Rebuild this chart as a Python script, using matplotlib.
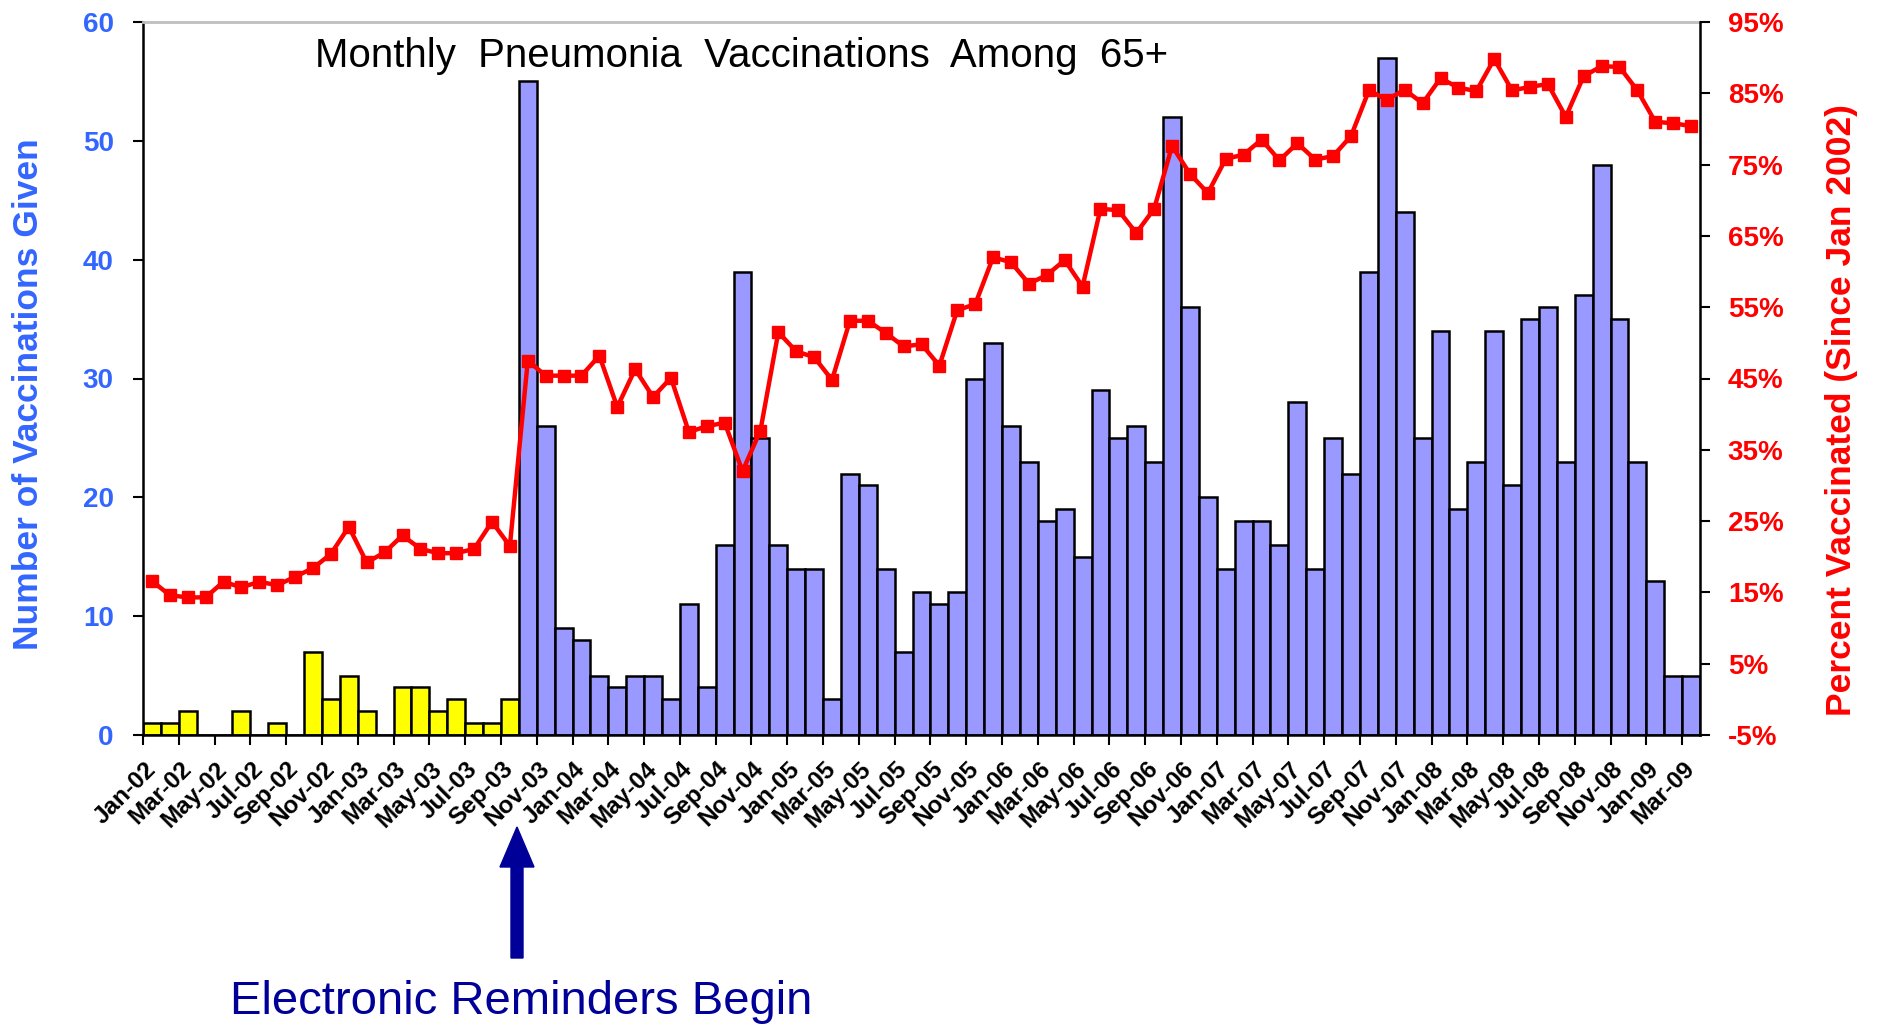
import matplotlib
matplotlib.use("Agg")
import matplotlib.pyplot as plt
from matplotlib.patches import FancyArrow
import numpy as np

plt.rcParams['font.family'] = ['Liberation Sans', 'DejaVu Sans']

# ---------------- data ----------------
years = ['02', '03', '04', '05', '06', '07', '08', '09']
month_names = ['Jan', 'Feb', 'Mar', 'Apr', 'May', 'Jun',
               'Jul', 'Aug', 'Sep', 'Oct', 'Nov', 'Dec']
months = [f"{m}-{y}" for y in years for m in month_names][:87]   # Jan-02 .. Mar-09

vaccinations = [
    1, 1, 2, 0, 0, 2, 0, 1, 0, 7, 3, 5,            # 2002
    2, 0, 4, 4, 2, 3, 1, 1, 3, 55, 26, 9,          # 2003
    8, 5, 4, 5, 5, 3, 11, 4, 16, 39, 25, 16,       # 2004
    14, 14, 3, 22, 21, 14, 7, 12, 11, 12, 30, 33,  # 2005
    26, 23, 18, 19, 15, 29, 25, 26, 23, 52, 36, 20,  # 2006
    14, 18, 18, 16, 28, 14, 25, 22, 39, 57, 44, 25,  # 2007
    34, 19, 23, 34, 21, 35, 36, 23, 37, 48, 35, 23,  # 2008
    13, 5, 5,                                      # 2009
]

percent_vaccinated = [
    16.6, 14.6, 14.3, 14.3, 16.5, 15.7, 16.5, 16.0, 17.2, 18.4, 20.4, 24.2,
    19.2, 20.6, 23.0, 21.1, 20.5, 20.5, 21.1, 24.9, 21.5, 47.5, 45.4, 45.4,
    45.4, 48.2, 41.0, 46.3, 42.4, 45.1, 37.5, 38.3, 38.8, 32.0, 37.7, 51.5,
    48.8, 48.0, 44.8, 53.1, 53.1, 51.4, 49.5, 49.8, 46.8, 54.6, 55.4, 62.0,
    61.3, 58.3, 59.5, 61.6, 57.9, 68.8, 68.6, 65.4, 68.8, 77.6, 73.7, 71.0,
    75.8, 76.4, 78.5, 75.6, 78.0, 75.7, 76.2, 79.0, 85.4, 84.1, 85.5, 83.6,
    87.1, 85.8, 85.3, 89.8, 85.4, 85.9, 86.3, 81.7, 87.4, 88.8, 88.7, 85.4,
    81.0, 80.8, 80.4,
]

reminders_start = "Oct-03"   # first month with electronic reminders

left_ticks = [0, 10, 20, 30, 40, 50, 60]
right_ticks = [-5, 5, 15, 25, 35, 45, 55, 65, 75, 85, 95]

# ---------------- styling ----------------
BLUE_TXT = '#3366FF'
RED = '#FF0000'
BAR_BLUE = '#9999FF'
BAR_YELLOW = '#FFFF00'
NAVY = '#000099'

W, H = 1879, 1026
fig = plt.figure(figsize=(W / 100, H / 100), dpi=100)
ax = fig.add_axes([143 / W, 1 - 735 / H, (1700 - 143) / W, (735 - 22) / H])

x = np.arange(len(months))
start_idx = months.index(reminders_start)
colors = [BAR_YELLOW if i < start_idx else BAR_BLUE for i in x]

ax.bar(x, vaccinations, width=1.0, color=colors, edgecolor='black',
       linewidth=1.8, zorder=2)

ax.set_xlim(-0.5, len(months) - 0.5)
ax.set_ylim(0, 60)
ax.set_yticks(left_ticks)
ax.set_yticklabels([str(t) for t in left_ticks])

# x ticks: marks at category boundaries every 2 months, labels at centres
ax.set_xticks(np.arange(-0.5, len(months) - 1, 2))
ax.set_xticklabels([])
ax.set_xticks(x[::2], minor=True)
ax.set_xticklabels(months[::2], minor=True, rotation=45, ha='right',
                   va='center', rotation_mode='anchor', fontsize=17.5,
                   fontweight='bold')
ax.tick_params(axis='x', which='major', length=7, width=1.5, direction='out')
ax.tick_params(axis='x', which='minor', length=0, pad=22)
ax.tick_params(axis='y', length=7, width=1.5, direction='out', pad=14,
               labelsize=20, labelcolor=BLUE_TXT)
for lab in ax.get_yticklabels():
    lab.set_fontweight('bold')

for s in ['left', 'bottom']:
    ax.spines[s].set_linewidth(1.8)
    ax.spines[s].set_color('black')
ax.spines['top'].set_color('#BFBFBF')
ax.spines['top'].set_linewidth(2)
ax.spines['right'].set_visible(False)

ax2 = ax.twinx()
ax2.plot(x, percent_vaccinated, color=RED, linewidth=3.2, marker='s',
         markersize=8.5, markerfacecolor=RED, markeredgecolor=RED, zorder=3)
ax2.set_ylim(-5, 95)
ax2.set_yticks(right_ticks)
ax2.set_yticklabels([f"{t}%" for t in right_ticks])
ax2.tick_params(axis='y', length=7, width=1.5, direction='out', pad=13,
                labelsize=20, labelcolor=RED)
for lab in ax2.get_yticklabels():
    lab.set_fontweight('bold')
for s in ['left', 'top', 'bottom']:
    ax2.spines[s].set_visible(False)
ax2.spines['right'].set_linewidth(1.8)
ax2.spines['right'].set_color('black')

# axis titles
fig.text(29 / W, 1 - 394 / H, 'Number of Vaccinations Given', rotation=90,
         ha='center', va='center', fontsize=25.5, fontweight='bold',
         color=BLUE_TXT)
fig.text(1841 / W, 1 - 410 / H, 'Percent Vaccinated (Since Jan 2002)',
         rotation=90, ha='center', va='center', fontsize=25.5,
         fontweight='bold', color=RED)

# chart title inside plot area
fig.text(315 / W, 1 - 67 / H, 'Monthly  Pneumonia  Vaccinations  Among  65+',
         ha='left', va='baseline', fontsize=29, color='black')

# arrow + annotation
arrow = FancyArrow(5.17, (H - 958) / 100, 0, (958 - 827) / 100,
                   width=0.12, head_width=0.34, head_length=0.40,
                   length_includes_head=True, color=NAVY,
                   transform=fig.dpi_scale_trans)
fig.add_artist(arrow)
fig.text(230 / W, 1 - 1014 / H, 'Electronic Reminders Begin', ha='left',
         va='baseline', fontsize=34, color=NAVY)

fig.savefig('out.png', dpi=100)
